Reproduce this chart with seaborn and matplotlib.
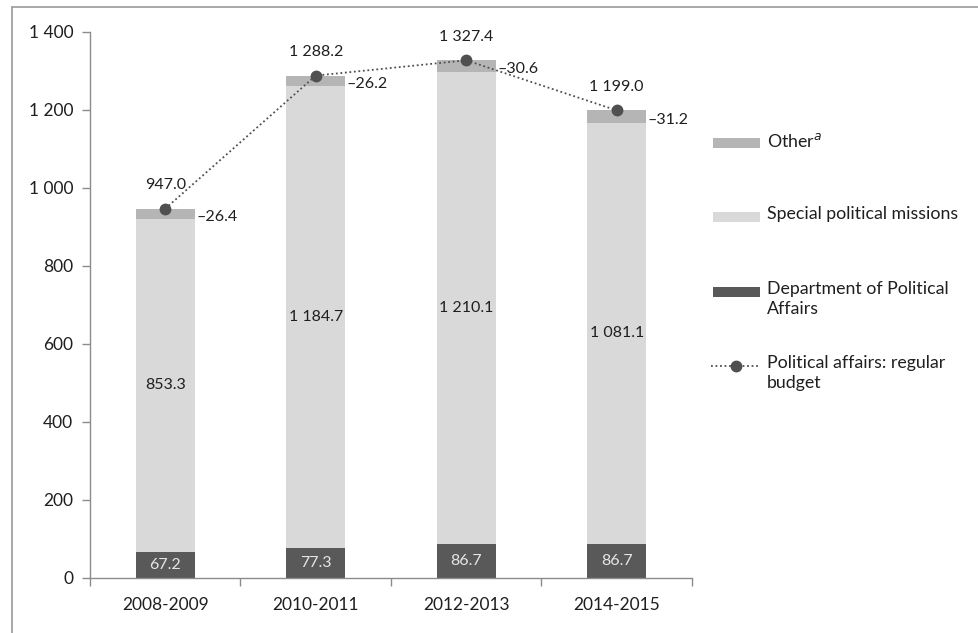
import numpy as np
import pandas as pd
import matplotlib
matplotlib.use("Agg")
import matplotlib.pyplot as plt
from matplotlib.patches import Rectangle
from matplotlib.lines import Line2D
import seaborn as sns

periods = ["2008-2009", "2010-2011", "2012-2013", "2014-2015"]
dept = [67.2, 77.3, 86.7, 86.7]
spm = [853.3, 1184.7, 1210.1, 1081.1]
other = [26.4, 26.2, 30.6, 31.2]
total = [947.0, 1288.2, 1327.4, 1199.0]
yticks = [0, 200, 400, 600, 800, 1000, 1200, 1400]

C_OTHER = "#b5b5b5"
C_SPM = "#d9d9d9"
C_DEPT = "#595959"
C_LINE = "#505050"

sns.set_theme(style="white")
plt.rcParams["font.family"] = ["Lato", "DejaVu Sans"]

W, H = 979, 633
fig = plt.figure(figsize=(W / 100, H / 100), dpi=100)
ax = fig.add_axes([90 / W, 1 - 578 / H, (692 - 90) / W, (578 - 32) / H])

df = pd.DataFrame({"period": periods, "dept": dept, "spm": spm,
                   "other": other, "total": total})
df["dept_spm"] = df["dept"] + df["spm"]
df["stack_total"] = df["dept_spm"] + df["other"]

bw = 0.39
sns.barplot(data=df, x="period", y="stack_total", color=C_OTHER, width=bw,
            saturation=1, ax=ax, linewidth=0)
sns.barplot(data=df, x="period", y="dept_spm", color=C_SPM, width=bw,
            saturation=1, ax=ax, linewidth=0)
sns.barplot(data=df, x="period", y="dept", color=C_DEPT, width=bw,
            saturation=1, ax=ax, linewidth=0)

xs = np.arange(len(periods))
ax.plot(xs, df["total"], linestyle=(0, (1, 1.5)), color=C_LINE, linewidth=1.3,
        marker="o", markersize=7.5, zorder=5)

fmt = lambda v: f"{v:,.1f}".replace(",", " ")
for i in xs:
    ax.text(i, df["dept"][i] / 2, fmt(df["dept"][i]), ha="center", va="center",
            fontsize=11.5, color="#e6e6e6")
    ax.text(i, df["dept"][i] + df["spm"][i] / 2, fmt(df["spm"][i]),
            ha="center", va="center", fontsize=11.5, color="#1f1f1f")
    ax.annotate(fmt(df["total"][i]), (i, df["total"][i]), xytext=(0, 17),
                textcoords="offset points", ha="center", va="center",
                fontsize=11.5, color="#1f1f1f")
    ax.text(i + bw / 2 + 0.01, df["dept_spm"][i] + df["other"][i] / 2 - 8,
            "\u2013" + fmt(df["other"][i]), ha="left", va="center",
            fontsize=11.5, color="#1f1f1f")

ax.set_xlim(-0.5, len(periods) - 0.5)
ax.set_ylim(0, 1400)
ax.set_yticks(yticks)
ax.set_yticklabels([f"{v:,}".replace(",", " ") for v in yticks])
ax.set_xticks(xs)
ax.set_xticklabels(periods)
ax.set_xticks(np.arange(-0.5, len(periods)), minor=True)
ax.set_xlabel("")
ax.set_ylabel("")
for s in ["top", "right"]:
    ax.spines[s].set_visible(False)
for s in ["left", "bottom"]:
    ax.spines[s].set_color("#8c8c8c")
    ax.spines[s].set_linewidth(1.0)
ax.tick_params(axis="y", which="major", left=True, length=6, width=1,
               color="#8c8c8c", labelsize=12.5, labelcolor="#1f1f1f", pad=6)
ax.tick_params(axis="x", which="major", bottom=False, length=0,
               labelsize=12.5, labelcolor="#1f1f1f", pad=14)
ax.tick_params(axis="x", which="minor", bottom=True, length=6, width=1,
               color="#8c8c8c")

# outer frame (top and left edges)
fig.add_artist(Line2D([12 / W, 1], [1 - 7 / H, 1 - 7 / H], color="#9a9a9a",
                      linewidth=1.2, transform=fig.transFigure))
fig.add_artist(Line2D([12 / W, 12 / W], [0, 1 - 7 / H], color="#9a9a9a",
                      linewidth=1.2, transform=fig.transFigure))

# legend
def px(x, y):
    return x / W, 1 - y / H

leg_items = [
    ("patch", C_OTHER, "Other$^{\\mathit{a}}$", 143),
    ("patch", C_SPM, "Special political missions", 217),
    ("patch", C_DEPT, "Department of Political\nAffairs", 292),
    ("line", C_LINE, "Political affairs: regular\nbudget", 366),
]
for kind, col, lab, y in leg_items:
    if kind == "patch":
        x0, y0 = px(713, y + 5)
        fig.add_artist(Rectangle((x0, y0), 47 / W, 10 / H, facecolor=col,
                                 edgecolor="none", transform=fig.transFigure))
    else:
        xa, ya = px(711, y)
        xb, _ = px(760, y)
        fig.add_artist(Line2D([xa, xb], [ya, ya], color=col,
                              linestyle=(0, (1, 1.5)), linewidth=1.3,
                              transform=fig.transFigure))
        fig.add_artist(Line2D([(xa + xb) / 2], [ya], color=col, marker="o",
                              markersize=7.5, transform=fig.transFigure))
    tx, ty = px(767, y - 11)
    fig.text(tx, ty, lab, ha="left", va="top", fontsize=12.8, color="#1f1f1f",
             linespacing=1.3)

fig.savefig("out.png", dpi=100, facecolor="white")
